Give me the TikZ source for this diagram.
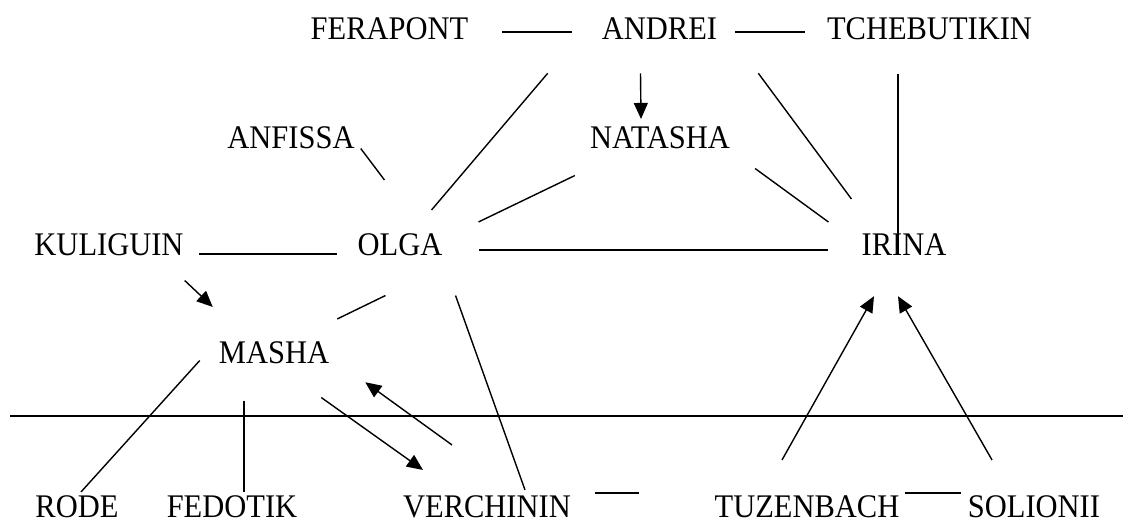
\documentclass[tikz,border=0pt]{standalone}
\usepackage{fontspec}
\setmainfont{Liberation Serif}[FakeStretch=0.924]
\usetikzlibrary{calc,arrows.meta}

\begin{document}
\begin{tikzpicture}[x=1pt,y=-1pt,font=\fontsize{33}{38}\selectfont,
  who/.style={inner sep=0,anchor=base},
  tie/.style={line width=1.4pt},
  ptr/.style={tie,-{Triangle[width=14pt,length=16pt]}}]
\useasboundingbox (0,0) rectangle (1123,527);
% characters
\node[who] (ferapont) at (389.5,40) {FERAPONT};
\node[who] (andrei) at (659.5,40) {ANDREI};
\node[who] (tcheb) at (929.5,40) {TCHEBUTIKIN};
\node[who] (anfissa) at (291,148) {ANFISSA};
\node[who] (natasha) at (660,148) {NATASHA};
\node[who] (kuliguin) at (109,255) {KULIGUIN};
\node[who] (olga) at (400,255) {OLGA};
\node[who] (irina) at (904,255) {IRINA};
\node[who] (masha) at (274,363) {MASHA};
\node[who] (rode) at (77,517) {RODE};
\node[who] (fedotik) at (232,517) {FEDOTIK};
\node[who] (verchinin) at (487,517) {VERCHININ};
\node[who] (tuzenbach) at (807,517) {TUZENBACH};
\node[who] (solionii) at (1034,517) {SOLIONII};
% ties
\draw[tie] ($(ferapont.base east)+(34,-8)$) -- ($(andrei.base west)+(-30,-8)$);
\draw[tie] ($(andrei.base east)+(18,-8)$) -- ($(tcheb.base west)+(-22,-8)$);
\draw[ptr] ($(andrei.south)+(-19,33)$) -- ($(natasha.north)+(-19,-7)$);
\draw[tie] ($(andrei.south west)+(-54,33)$) -- ($(olga.north east)+(-11,-23)$);
\draw[tie] ($(andrei.south east)+(41,33)$) -- ($(irina.north west)+(-10,-34)$);
\draw[tie] ($(tcheb.south)+(-31.5,33)$) -- ($(irina.south)+(-6,0)$);
\draw[tie] ($(anfissa.south east)+(6,0)$) -- ($(olga.north west)+(27,-53)$);
\draw[tie] ($(natasha.south west)+(-15,27)$) -- ($(olga.north east)+(36,-11)$);
\draw[tie] ($(natasha.south east)+(25,20)$) -- ($(irina.north west)+(-33,-11)$);
\draw[tie] ($(kuliguin.base east)+(15,-1)$) -- ($(olga.base west)+(-20,-1)$);
\draw[tie] ($(olga.base east)+(36,-5)$) -- ($(irina.base west)+(-33,-5)$);
\draw[ptr] ($(kuliguin.south east)+(1,25)$) -- ($(masha.north west)+(-6,-34)$);
\draw[tie] ($(olga.south west)+(28,40)$) -- ($(masha.north east)+(8,-22)$);
\draw[tie] ($(olga.south east)+(13,40)$) -- ($(verchinin.north)+(38,-5)$);
\draw[tie] ($(masha.south west)+(-19,-3)$) -- ($(rode.north)+(4,-3)$);
\draw[tie] ($(masha.south)+(-30,37)$) -- ($(fedotik.north)+(12,-3)$);
\draw[ptr] ($(masha.south east)+(-8,34)$) -- ($(verchinin.north west)+(20,-25)$);
\draw[ptr] ($(verchinin.north)+(-35,-50)$) -- ($(masha.east)+(36,30)$);
\draw[tie] ($(verchinin.base east)+(24,-24)$) -- ($(tuzenbach.base west)+(-75,-24)$);
\draw[tie] ($(tuzenbach.base east)+(5,-24)$) -- ($(solionii.base west)+(-7,-24)$);
\draw[ptr] ($(tuzenbach.north)+(-25,-35)$) -- ($(irina.south)+(-30,41)$);
\draw[ptr] ($(solionii.north)+(-42,-35)$) -- ($(irina.south)+(-6,41)$);
% divider
\draw[tie] (10,416) -- (1123,416);
\end{tikzpicture}
\end{document}
